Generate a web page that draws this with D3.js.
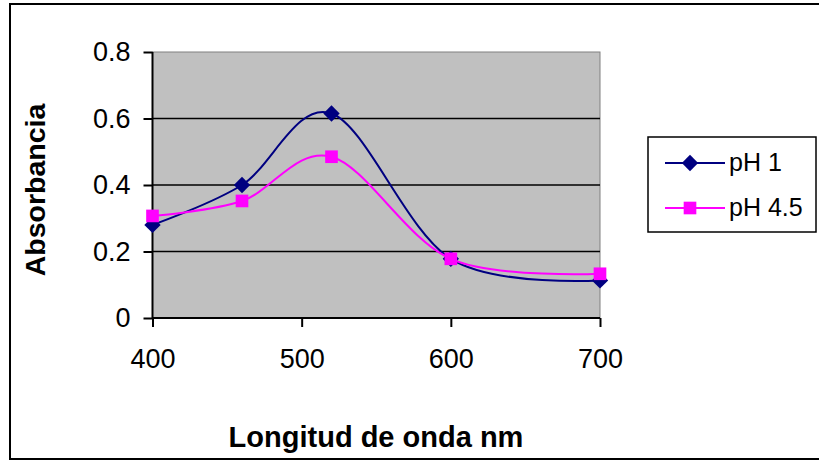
<!DOCTYPE html>
<html>
<head>
<meta charset="utf-8">
<script src="https://cdn.jsdelivr.net/npm/d3@7"></script>
<style>
  body { margin: 0; background: #fff; }
  text { font-family: "Liberation Sans", Arial, sans-serif; }
</style>
</head>
<body>
<div class="chart"></div>
<script>
// wavelengths (nm) and absorbance
const wavelengths = [400, 460, 520, 600, 700];
const ph1 = [0.28, 0.40, 0.615, 0.178, 0.113];
const ph45 = [0.307, 0.352, 0.485, 0.178, 0.133];
const seriesNames = ["pH 1", "pH 4.5"];
const seriesColors = ["#000080", "#FF00FF"];
const yTicks = [0, 0.2, 0.4, 0.6, 0.8];
const xTicks = [400, 500, 600, 700];

const width = 819;
const height = 460;

const svg = d3.select(".chart").append("svg")
    .attr("width", width)
    .attr("height", height);

// outer frame
svg.append("rect")
    .attr("x", 10).attr("y", 4)
    .attr("width", 820).attr("height", 455)
    .attr("fill", "white")
    .attr("stroke", "black")
    .attr("stroke-width", 2);

const x = d3.scaleLinear().domain([400, 700]).range([152.5, 600]);
const y = d3.scaleLinear().domain([0, 0.8]).range([318, 52]);

// plot background
svg.append("rect")
    .attr("x", x(400)).attr("y", y(0.8))
    .attr("width", x(700) - x(400))
    .attr("height", y(0) - y(0.8))
    .attr("fill", "#C0C0C0")
    .attr("stroke", "#808080")
    .attr("stroke-width", 1);

// gridlines
svg.append("g")
    .selectAll("line")
    .data(yTicks.filter(d => d > 0 && d < 0.8))
    .join("line")
    .attr("x1", x(400)).attr("x2", x(700))
    .attr("y1", d => y(d)).attr("y2", d => y(d))
    .attr("stroke", "black")
    .attr("stroke-width", 1.5);

// axes
const yAxis = svg.append("g")
    .attr("transform", `translate(${x(400)},0)`)
    .call(d3.axisLeft(y).tickValues(yTicks).tickSize(9).tickPadding(13)
        .tickFormat(d => d === 0 ? "0" : d3.format(".1f")(d)));
const xAxis = svg.append("g")
    .attr("transform", `translate(0,${y(0)})`)
    .call(d3.axisBottom(x).tickValues(xTicks).tickSize(9).tickPadding(22)
        .tickFormat(d3.format("d")));

[yAxis, xAxis].forEach(g => {
    g.select(".domain").attr("stroke", "black").attr("stroke-width", 2);
    g.selectAll(".tick line").attr("stroke", "black").attr("stroke-width", 2);
    g.selectAll(".tick text")
        .attr("fill", "black")
        .style("font-size", "27px")
        .style("font-family", "'Liberation Sans', Arial, sans-serif");
});
yAxis.select(".domain").attr("d", `M0,${y(0.8)}V${y(0)}`);
xAxis.select(".domain").attr("d", `M${x(400)},0H${x(700)}`);

// axis titles
svg.append("text")
    .attr("transform", "translate(45,190) rotate(-90)")
    .attr("text-anchor", "middle")
    .style("font-size", "28.5px")
    .style("font-weight", "bold")
    .text("Absorbancia");

svg.append("text")
    .attr("x", 376).attr("y", 447)
    .attr("text-anchor", "middle")
    .style("font-size", "29px")
    .style("font-weight", "bold")
    .text("Longitud de onda nm");

// series
const series = [ph1, ph45].map((vals, i) => ({
    name: seriesNames[i],
    color: seriesColors[i],
    points: wavelengths.map((w, j) => [w, vals[j]])
}));

const line = d3.line()
    .x(d => x(d[0]))
    .y(d => y(d[1]))
    .curve(d3.curveCardinal.tension(0));

svg.append("g")
    .selectAll("path")
    .data(series)
    .join("path")
    .attr("d", d => line(d.points))
    .attr("fill", "none")
    .attr("stroke", d => d.color)
    .attr("stroke-width", 2);

const diamond = d3.symbol().type(d3.symbolDiamond2).size(170);
const square = d3.symbol().type(d3.symbolSquare).size(160);
const shapes = [diamond, square];

series.forEach((s, i) => {
    svg.append("g")
        .selectAll("path")
        .data(s.points)
        .join("path")
        .attr("transform", d => `translate(${x(d[0])},${y(d[1])})`)
        .attr("d", shapes[i])
        .attr("fill", s.color);
});

// legend
const legend = svg.append("g");
legend.append("rect")
    .attr("x", 648).attr("y", 137)
    .attr("width", 168).attr("height", 95)
    .attr("fill", "white")
    .attr("stroke", "black")
    .attr("stroke-width", 1.5);

const legendRows = [163, 208];
series.forEach((s, i) => {
    const ly = legendRows[i];
    legend.append("line")
        .attr("x1", 665).attr("x2", 725)
        .attr("y1", ly).attr("y2", ly)
        .attr("stroke", s.color)
        .attr("stroke-width", 2);
    legend.append("path")
        .attr("transform", `translate(690,${ly})`)
        .attr("d", shapes[i])
        .attr("fill", s.color);
    legend.append("text")
        .attr("x", 729).attr("y", ly + 8)
        .style("font-size", "25px")
        .text(s.name);
});
</script>
</body>
</html>
